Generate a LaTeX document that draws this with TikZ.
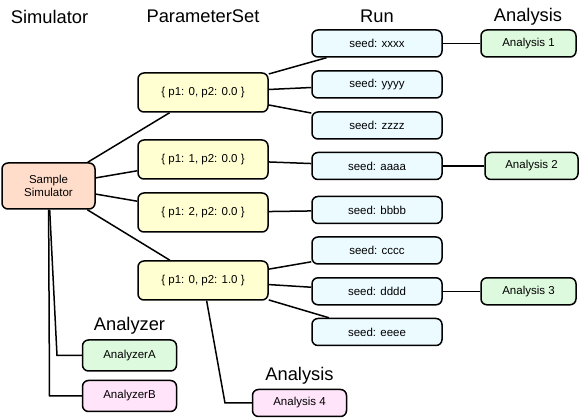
\documentclass[tikz,border=0pt]{standalone}
\usepackage{fontspec}
\setmainfont{Liberation Sans}
\begin{document}
\begin{tikzpicture}[x=1pt,y=-1pt,
  box/.style={draw=black,line width=1.5pt,rounded corners=6pt,inner sep=0pt,font=\fontsize{11.5}{13.5}\selectfont,align=center},
  simbox/.style={box,fill=simfill,minimum width=93pt,minimum height=46pt},
  psbox/.style={box,fill=psfill,minimum width=130pt,minimum height=39pt},
  runbox/.style={box,fill=runfill,minimum width=130pt,minimum height=27pt},
  anbox/.style={box,fill=anfill,minimum width=95pt,minimum height=27pt},
  azbox/.style={box,minimum width=94pt,minimum height=31pt},
  head/.style={font=\fontsize{18.3}{20}\selectfont,inner sep=0pt},
  conn/.style={line width=1.5pt}]
\definecolor{simfill}{RGB}{255,221,202}
\definecolor{psfill}{RGB}{255,255,210}
\definecolor{runfill}{RGB}{235,251,255}
\definecolor{anfill}{RGB}{222,250,222}
\definecolor{pkfill}{RGB}{255,228,250}
\useasboundingbox (0,0) rectangle (581,419);

\node[head] (hsim) at (49.5,16.5) {Simulator};
\node[head] (hps) at (203,16.5) {ParameterSet};
\node[head] (hrun) at (377,16.5) {Run};
\node[head] (han) at (528,16.5) {Analysis};
\node[head] (haz) at (129.5,326) {Analyzer};
\node[head] (han4) at (299.5,376) {Analysis};

\node[simbox] (sim) at (48.5,186) {Sample\\Simulator};

\node[psbox] (ps1) at (203,92.5) {\{ p1: 0, p2: 0.0 \}};
\node[psbox] (ps2) at (203,159.5) {\{ p1: 1, p2: 0.0 \}};
\node[psbox] (ps3) at (203,212.5) {\{ p1: 2, p2: 0.0 \}};
\node[psbox] (ps4) at (203,280.5) {\{ p1: 0, p2: 1.0 \}};

\node[runbox] (rx) at (377,43.5) {seed: xxxx};
\node[runbox] (ry) at (377,84.5) {seed: yyyy};
\node[runbox] (rz) at (377,125.5) {seed: zzzz};
\node[runbox] (ra) at (377,166) {seed: aaaa};
\node[runbox] (rb) at (377,210) {seed: bbbb};
\node[runbox] (rc) at (377,250.5) {seed: cccc};
\node[runbox] (rd) at (377,291.3) {seed: dddd};
\node[runbox] (re) at (377,332) {seed: eeee};

\node[anbox] (a1) at (528.5,43.5) {Analysis 1};
\node[anbox,minimum width=93pt] (a2) at (531.5,166) {Analysis 2};
\node[anbox] (a3) at (528.5,291.3) {Analysis 3};

\node[azbox,fill=anfill] (aza) at (129.5,355.5) {AnalyzerA};
\node[azbox,fill=pkfill] (azb) at (129.5,396) {AnalyzerB};
\node[anbox,fill=pkfill,minimum width=94pt] (a4) at (299.5,403) {Analysis 4};

\coordinate (ca) at (57,355.5);
\coordinate (cb) at (49.5,396);
\coordinate (c4) at (225,403);

\draw[conn] (sim) -- (ps1);
\draw[conn] (sim) -- (ps2);
\draw[conn] (sim) -- (ps3);
\draw[conn] (sim) -- (ps4);
\draw[conn] (ps1) -- (rx);
\draw[conn] (ps1) -- (ry);
\draw[conn] (ps1) -- (rz);
\draw[conn] (ps2) -- (ra);
\draw[conn] (ps3) -- (rb);
\draw[conn] (ps4) -- (rc);
\draw[conn] (ps4) -- (rd);
\draw[conn] (ps4) -- (re);
\draw[conn] (rx) -- (a1);
\draw[conn] (ra) -- (a2);
\draw[conn] (rd) -- (a3);
\draw[conn] (sim) -- (ca) -- (aza);
\draw[conn] (sim) -- (cb) -- (azb);
\draw[conn] (ps4) -- (c4) -- (a4);
\end{tikzpicture}
\end{document}
